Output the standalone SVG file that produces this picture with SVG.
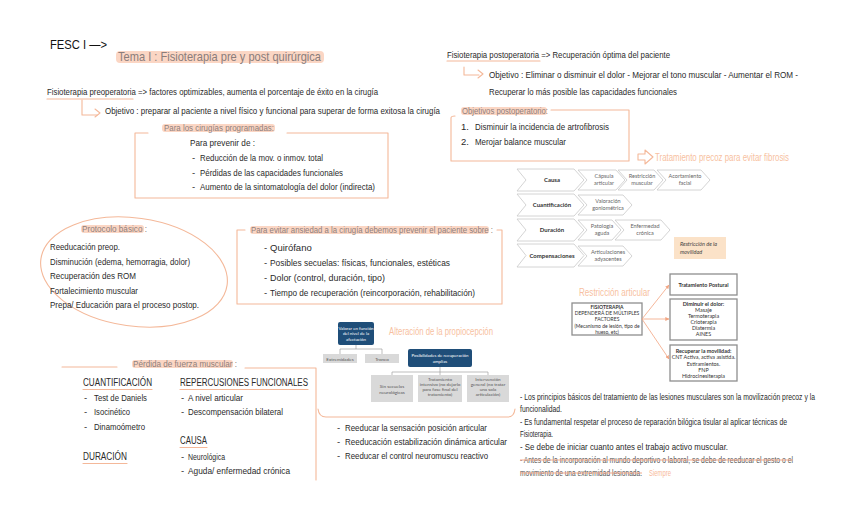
<svg xmlns="http://www.w3.org/2000/svg" width="848" height="522" viewBox="0 0 848 522">
<style>
.h{font-family:'Liberation Sans',Arial,sans-serif;font-size:9.5px;fill:#2a2a2a}
.ti{font-family:'Liberation Sans',Arial,sans-serif;font-size:9px;fill:#8f7f7c}
.pk{fill:none;stroke:#f4b899;stroke-width:1.1;stroke-linecap:round;stroke-linejoin:round}
.hl{fill:#fbd6c4}
.pt{font-family:'Liberation Sans',Arial,sans-serif;font-size:11px;fill:#f7bfa1}
.cv{fill:#fff;stroke:#c9c9c9;stroke-width:0.8}
.cb{font-family:Lato,'Open Sans',sans-serif;font-size:6px;font-weight:bold;fill:#333;text-anchor:middle}
.cs{font-family:Lato,'Open Sans',sans-serif;font-size:5.5px;fill:#666;text-anchor:middle}
.bx{fill:#fff;stroke:#8e8e8e;stroke-width:1.3}
.bt{font-family:Lato,'Open Sans',sans-serif;font-size:5.4px;fill:#333;text-anchor:middle}
.bb{font-weight:bold}
.nv{fill:#1f4e79}
.gr{fill:#d9d9d9}
.wt{font-family:Lato,'Open Sans',sans-serif;font-size:4.4px;fill:#fff;text-anchor:middle}
.gt{font-family:Lato,'Open Sans',sans-serif;font-size:4.6px;fill:#555;text-anchor:middle}
.gl{fill:none;stroke:#a0a0a0;stroke-width:0.7}
.ar{fill:none;stroke:#f2a582;stroke-width:0.8}
.st{fill:none;stroke:#f4a88a;stroke-width:1}
</style>
<defs>
<marker id="ah" viewBox="0 0 6 6" refX="5.5" refY="3" markerWidth="5" markerHeight="5" orient="auto">
<path d="M0,0 L6,3 L0,6 Z" fill="#f2a582"/>
</marker>
</defs>
<rect width="848" height="522" fill="#fff"/>

<g id="header">
<text x="50" y="49" style="font-family:'Liberation Sans',Arial,sans-serif;font-size:13px;fill:#111" textLength="57" lengthAdjust="spacingAndGlyphs">FESC I —&gt;</text>
<rect x="116" y="51" width="208" height="12" rx="4" class="hl"/>
<text x="118" y="61" style="font-family:'Liberation Sans',Arial,sans-serif;font-size:13px;fill:#8a7d7b" textLength="203" lengthAdjust="spacingAndGlyphs">Tema I : Fisioterapia pre y post quirúrgica</text>
</g>

<g id="preop">
<text x="47" y="95" class="h" textLength="331" lengthAdjust="spacingAndGlyphs">Fisioterapia preoperatoria =&gt; factores optimizables, aumenta el porcentaje de éxito en la cirugía</text>
<line x1="47" y1="99" x2="133" y2="99" class="pk"/>
<text x="105" y="114" class="h" textLength="335" lengthAdjust="spacingAndGlyphs">Objetivo : preparar al paciente a nivel físico y funcional para superar de forma exitosa la cirugía</text>
</g>

<g id="cirugias-programadas">
<path d="M148,133 H135 V198 H388 V133 H287" class="pk"/>
<rect x="162" y="124" width="113" height="8" rx="3" class="hl"/>
<text x="164" y="131" class="ti" textLength="110" lengthAdjust="spacingAndGlyphs">Para los cirugías programadas:</text>
<text x="190" y="146" class="h" textLength="65" lengthAdjust="spacingAndGlyphs">Para prevenir de :</text>
<text x="192" y="161" class="h">-</text>
<text x="200" y="161" class="h" textLength="123" lengthAdjust="spacingAndGlyphs">Reducción de la mov. o inmov. total</text>
<text x="192" y="176" class="h">-</text>
<text x="200" y="176" class="h" textLength="143" lengthAdjust="spacingAndGlyphs">Pérdidas de las capacidades funcionales</text>
<text x="192" y="190" class="h">-</text>
<text x="200" y="190" class="h" textLength="175" lengthAdjust="spacingAndGlyphs">Aumento de la sintomatología del dolor (indirecta)</text>
</g>

<g id="protocolo-basico">
<ellipse cx="134" cy="272" rx="94" ry="54" transform="rotate(8 134 272)" class="pk"/>
<rect x="81" y="225" width="63" height="8" rx="3" class="hl"/>
<text x="82" y="232" class="ti" textLength="65" lengthAdjust="spacingAndGlyphs">Protocolo básico :</text>
<text x="50" y="250" class="h" textLength="70" lengthAdjust="spacingAndGlyphs">Reeducación preop.</text>
<text x="50" y="265" class="h" textLength="140" lengthAdjust="spacingAndGlyphs">Disminución (edema, hemorragia, dolor)</text>
<text x="50" y="279" class="h" textLength="86" lengthAdjust="spacingAndGlyphs">Recuperación des ROM</text>
<text x="50" y="294" class="h" textLength="88" lengthAdjust="spacingAndGlyphs">Fortalecimiento muscular</text>
<text x="50" y="308" class="h" textLength="149" lengthAdjust="spacingAndGlyphs">Prepa/ Educación para el proceso postop.</text>
</g>

<g id="ansiedad">
<path d="M245,230 H237 V304 H502 V230 H497" class="pk"/>
<rect x="250" y="226" width="239" height="8" rx="3" class="hl"/>
<text x="251" y="233" class="ti" textLength="242" lengthAdjust="spacingAndGlyphs">Para evitar ansiedad a la cirugía debemos prevenir el paciente sobre :</text>
<text x="264" y="251" class="h">-</text>
<text x="270" y="251" class="h">Quirófano</text>
<text x="264" y="266" class="h">-</text>
<text x="270" y="266" class="h" textLength="180" lengthAdjust="spacingAndGlyphs">Posibles secuelas: físicas, funcionales, estéticas</text>
<text x="264" y="281" class="h">-</text>
<text x="270" y="281" class="h" textLength="115" lengthAdjust="spacingAndGlyphs">Dolor (control, duración, tipo)</text>
<text x="264" y="296" class="h">-</text>
<text x="270" y="296" class="h" textLength="205" lengthAdjust="spacingAndGlyphs">Tiempo de recuperación (reincorporación, rehabilitación)</text>
</g>

<g id="postop">
<text x="447" y="58" class="h" textLength="223" lengthAdjust="spacingAndGlyphs">Fisioterapia postoperatoria =&gt; Recuperación óptima del paciente</text>
<line x1="447" y1="61" x2="540" y2="61" class="pk"/>
<text x="489" y="78" class="h" textLength="309" lengthAdjust="spacingAndGlyphs">Objetivo : Eliminar o disminuir el dolor - Mejorar el tono muscular - Aumentar el ROM -</text>
<text x="489" y="95" class="h" textLength="188" lengthAdjust="spacingAndGlyphs">Recuperar lo más posible las capacidades funcionales</text>
</g>

<g id="objetivos-postop">
<path d="M551,110 H629 V161 H451 V118 Q451,116 455,116" class="pk"/>
<rect x="461" y="107" width="86" height="8" rx="3" class="hl"/>
<text x="462" y="114" class="ti" textLength="86" lengthAdjust="spacingAndGlyphs">Objetivos postoperatorio:</text>
<text x="461" y="130" class="h">1.</text>
<text x="475" y="130" class="h" textLength="134" lengthAdjust="spacingAndGlyphs">Disminuir la incidencia de artrofibrosis</text>
<text x="461" y="145" class="h">2.</text>
<text x="475" y="145" class="h" textLength="91" lengthAdjust="spacingAndGlyphs">Merojar balance muscular</text>
</g>

<g id="tratamiento-precoz">
<path d="M638,154 H645 V150 L653,157 L645,164 V160 H638 Z" class="pk"/>
<text x="655" y="161" class="pt" textLength="134" lengthAdjust="spacingAndGlyphs">Tratamiento precoz para evitar fibrosis</text>
</g>

<g id="chevrons">
<path d="M517,169 H574 L584,180 L574,191 H517 L526,180 Z" class="cv"/>
<text x="552" y="182" class="cb">Causa</text>
<path d="M578,170 H616 L625,180 L616,190 H578 L587,180 Z" class="cv"/>
<text x="604" y="178" class="cs">Cápsula</text><text x="604" y="185" class="cs">articular</text>
<path d="M618,170 H654 L663,180 L654,190 H618 L627,180 Z" class="cv"/>
<text x="642" y="178" class="cs">Restricción</text><text x="642" y="185" class="cs">muscular</text>
<path d="M657,170 H701 L710,180 L701,190 H657 L666,180 Z" class="cv"/>
<text x="685" y="178" class="cs">Acortamiento</text><text x="685" y="185" class="cs">facial</text>

<path d="M517,194 H574 L584,205 L574,216 H517 L526,205 Z" class="cv"/>
<text x="552" y="207" class="cb">Cuantificación</text>
<path d="M578,195 H623 L632,205 L623,215 H578 L587,205 Z" class="cv"/>
<text x="608" y="203" class="cs">Valoración</text><text x="608" y="210" class="cs">goniométrica</text>

<path d="M517,219 H574 L584,230 L574,241 H517 L526,230 Z" class="cv"/>
<text x="552" y="232" class="cb">Duración</text>
<path d="M578,220 H612 L621,230 L612,240 H578 L587,230 Z" class="cv"/>
<text x="602" y="228" class="cs">Patología</text><text x="602" y="235" class="cs">aguda</text>
<path d="M615,220 H661 L670,230 L661,240 H615 L624,230 Z" class="cv"/>
<text x="645" y="228" class="cs">Enfermedad</text><text x="645" y="235" class="cs">crónica</text>

<path d="M517,244 H574 L584,255.5 L574,267 H517 L526,255.5 Z" class="cv"/>
<text x="552" y="258" class="cb">Compensaciones</text>
<path d="M578,246 H623 L632,256 L623,266 H578 L587,256 Z" class="cv"/>
<text x="608" y="254" class="cs">Articulaciones</text><text x="608" y="261" class="cs">adyacentes</text>
</g>

<g id="restriccion-movilidad">
<rect x="674" y="237" width="52" height="22" fill="#fbe2c8"/>
<text x="680" y="246" style="font-family:Lato,'Open Sans',sans-serif;font-size:5.5px;font-style:italic;fill:#444">Restricción de la</text>
<text x="680" y="254" style="font-family:Lato,'Open Sans',sans-serif;font-size:5.5px;font-style:italic;fill:#444">movilidad</text>
</g>

<g id="restriccion-articular">
<text x="579" y="296" class="pt" textLength="71" lengthAdjust="spacingAndGlyphs">Restricción articular</text>
</g>

<g id="fisioterapia-box">
<rect x="572" y="303" width="70" height="32" class="bx"/>
<text x="607" y="309" class="bt bb" style="font-size:5px">FISIOTERAPIA</text>
<text x="607" y="315" class="bt" style="font-size:5px">DEPENDERÁ DE MÚLTIPLES</text>
<text x="607" y="321" class="bt" style="font-size:5px">FACTORES</text>
<text x="607" y="327.5" class="bt" style="font-size:5px">(Mecanismo de lesión, tipo de</text>
<text x="607" y="333.5" class="bt" style="font-size:5px">hueso, etc)</text>
</g>

<g id="tratamiento-postural">
<rect x="670" y="274" width="67" height="21" class="bx"/>
<text x="703.5" y="287" class="bt bb">Tratamiento Postural</text>
</g>

<g id="disminuir-dolor">
<rect x="670" y="299" width="67" height="41" class="bx"/>
<text x="703.5" y="305.5" class="bt bb">Diminuir el dolor:</text>
<text x="703.5" y="312" class="bt">Masaje</text>
<text x="703.5" y="318" class="bt">Termoterapia</text>
<text x="703.5" y="324" class="bt">Crioterapia</text>
<text x="703.5" y="330" class="bt">Diatermia</text>
<text x="703.5" y="336" class="bt">AINES</text>
</g>

<g id="recuperar-movilidad">
<rect x="670" y="345" width="67" height="36" class="bx"/>
<text x="703.5" y="353" class="bt bb">Recuperar la movilidad:</text>
<text x="703.5" y="359" class="bt">CNT Activa, activa asistida.</text>
<text x="703.5" y="366" class="bt">Estiramientos.</text>
<text x="703.5" y="372" class="bt">FNP</text>
<text x="703.5" y="378" class="bt">Hidrocinesiterapia</text>
</g>

<g id="propiocepcion">
<text x="389" y="335" class="pt" textLength="104" lengthAdjust="spacingAndGlyphs">Alteración de la propiocepción</text>
</g>

<g id="valorar">
<rect x="338" y="322" width="36" height="23" rx="2" class="nv"/>
<text x="356" y="329.5" class="wt">Valorar en función</text>
<text x="356" y="335" class="wt">del nivel de la</text>
<text x="356" y="340.5" class="wt">afectación</text>
</g>
<g id="extremidades">
<rect x="323" y="354" width="34" height="9" class="gr"/>
<text x="340" y="360.5" class="gt">Extremidades</text>
</g>
<g id="tronco">
<rect x="365" y="354" width="34" height="9" class="gr"/>
<text x="382" y="360.5" class="gt">Tronco</text>
</g>
<g id="posibilidades">
<rect x="408" y="349" width="64" height="18" rx="2" class="nv"/>
<text x="440" y="356.5" class="wt">Posibilidades de recuperación</text>
<text x="440" y="362.5" class="wt">amplias</text>
</g>
<g id="sin-secuelas">
<rect x="371" y="375" width="42" height="27" class="gr"/>
<text x="392" y="388" class="gt">Sin secuelas</text>
<text x="392" y="393.5" class="gt">neurológicas</text>
</g>
<g id="tratamiento-intensivo">
<rect x="418" y="375" width="44" height="27" class="gr"/>
<text x="440" y="381" class="gt">Tratamiento</text>
<text x="440" y="386" class="gt">intensivo (no dejarlo</text>
<text x="440" y="391" class="gt">para fase final del</text>
<text x="440" y="396" class="gt">tratamiento)</text>
</g>
<g id="intervencion-general">
<rect x="467" y="375" width="42" height="27" class="gr"/>
<text x="488" y="381" class="gt">Intervención</text>
<text x="488" y="386" class="gt">general  (no tratar</text>
<text x="488" y="391" class="gt">una sola</text>
<text x="488" y="396" class="gt">articulación)</text>
</g>

<g id="perdida-fuerza">
<path d="M117,367 H62 M245,368 H316 V480" class="pk"/>
<rect x="132" y="360" width="101" height="8" rx="3" class="hl"/>
<text x="133" y="367" class="ti" textLength="104" lengthAdjust="spacingAndGlyphs">Pérdida de fuerza muscular :</text>
<text x="83" y="386" class="h" style="font-size:10px" textLength="69" lengthAdjust="spacingAndGlyphs">CUANTIFICACIÓN</text>
<line x1="83" y1="389.5" x2="152" y2="389.5" class="pk"/>
<text x="84" y="401" class="h">-</text>
<text x="94" y="401" class="h" textLength="53" lengthAdjust="spacingAndGlyphs">Test de Daniels</text>
<text x="84" y="415" class="h">-</text>
<text x="94" y="415" class="h" textLength="36" lengthAdjust="spacingAndGlyphs">Isocinético</text>
<text x="84" y="430" class="h">-</text>
<text x="94" y="430" class="h" textLength="51" lengthAdjust="spacingAndGlyphs">Dinamoómetro</text>
<text x="83" y="460" class="h" style="font-size:10px" textLength="44" lengthAdjust="spacingAndGlyphs">DURACIÓN</text>
<line x1="83" y1="463.5" x2="127" y2="463.5" class="pk"/>
<text x="180" y="386" class="h" style="font-size:10px" textLength="128" lengthAdjust="spacingAndGlyphs">REPERCUSIONES FUNCIONALES</text>
<line x1="180" y1="389.5" x2="308" y2="389.5" class="pk"/>
<text x="181" y="401" class="h">-</text>
<text x="188" y="401" class="h" textLength="55" lengthAdjust="spacingAndGlyphs">A nivel articular</text>
<text x="181" y="415" class="h">-</text>
<text x="188" y="415" class="h" textLength="95" lengthAdjust="spacingAndGlyphs">Descompensación bilateral</text>
<text x="180" y="444" class="h" style="font-size:10px" textLength="27" lengthAdjust="spacingAndGlyphs">CAUSA</text>
<line x1="180" y1="447.5" x2="207" y2="447.5" class="pk"/>
<text x="181" y="460" class="h">-</text>
<text x="188" y="460" class="h" textLength="37" lengthAdjust="spacingAndGlyphs">Neurológica</text>
<text x="181" y="474" class="h">-</text>
<text x="188" y="474" class="h" textLength="102" lengthAdjust="spacingAndGlyphs">Aguda/ enfermedad crónica</text>
</g>

<g id="reeducar-list">
<path d="M318,409 Q319,417 326,417 H508 Q514,417 515,409" class="pk"/>
<text x="337" y="431" class="h">-</text>
<text x="345" y="431" class="h" textLength="142" lengthAdjust="spacingAndGlyphs">Reeducar la sensación posición articular</text>
<text x="337" y="445" class="h">-</text>
<text x="345" y="445" class="h" textLength="162" lengthAdjust="spacingAndGlyphs">Reeducación estabilización dinámica articular</text>
<text x="337" y="459" class="h">-</text>
<text x="345" y="459" class="h" textLength="143" lengthAdjust="spacingAndGlyphs">Reeducar el control neuromuscu reactivo</text>
</g>

<g id="principios">
<text x="520" y="400" class="h" style="font-size:9px" textLength="295" lengthAdjust="spacingAndGlyphs">- Los principios básicos del tratamiento de las lesiones musculares son la movilización precoz y la</text>
<text x="520" y="412" class="h" style="font-size:9px" textLength="42" lengthAdjust="spacingAndGlyphs">funcionalidad.</text>
<text x="520" y="425" class="h" style="font-size:9px" textLength="267" lengthAdjust="spacingAndGlyphs">- Es fundamental respetar el proceso de reparación bilógica tisular al aplicar técnicas de</text>
<text x="520" y="437" class="h" style="font-size:9px" textLength="33" lengthAdjust="spacingAndGlyphs">Fisioterapia.</text>
<text x="520" y="450" class="h" style="font-size:9px" textLength="208" lengthAdjust="spacingAndGlyphs">- Se debe de iniciar cuanto antes el trabajo activo muscular.</text>
<text x="520" y="463" class="h" style="font-size:9px;fill:#555" textLength="273" lengthAdjust="spacingAndGlyphs">- Antes de la incorporación al mundo deportivo o laboral, se debe de reeducar el gesto o el</text>
<line x1="520" y1="460" x2="793" y2="460" class="st"/>
<text x="520" y="476" class="h" style="font-size:9px;fill:#555" textLength="122" lengthAdjust="spacingAndGlyphs">movimiento de una extremidad lesionada.</text>
<line x1="520" y1="473" x2="642" y2="473" class="st"/>
<text x="649" y="476" class="h" style="font-size:9px;fill:#f7b89a" textLength="22" lengthAdjust="spacingAndGlyphs">Siempre</text>
</g>

<g id="connectors">
<path d="M82,100 V115 H97" class="pk"/>
<path d="M95,109 L100,113 L95,117" class="pk"/>
<path d="M464,67 V75 H479" class="pk"/>
<path d="M478,70 L483,74 L478,78" class="pk"/>
<line x1="642" y1="319" x2="669" y2="285" class="ar" marker-end="url(#ah)"/>
<line x1="642" y1="319" x2="669" y2="319" class="ar" marker-end="url(#ah)"/>
<line x1="642" y1="319" x2="669" y2="359" class="ar" marker-end="url(#ah)"/>
<path d="M356,345 V349 M340,349 H382 M340,349 V354 M382,349 V354" class="gl"/>
<path d="M440,367 V372 M392,372 H488 M392,372 V375 M440,372 V375 M488,372 V375" class="gl"/>
</g>
</svg>
